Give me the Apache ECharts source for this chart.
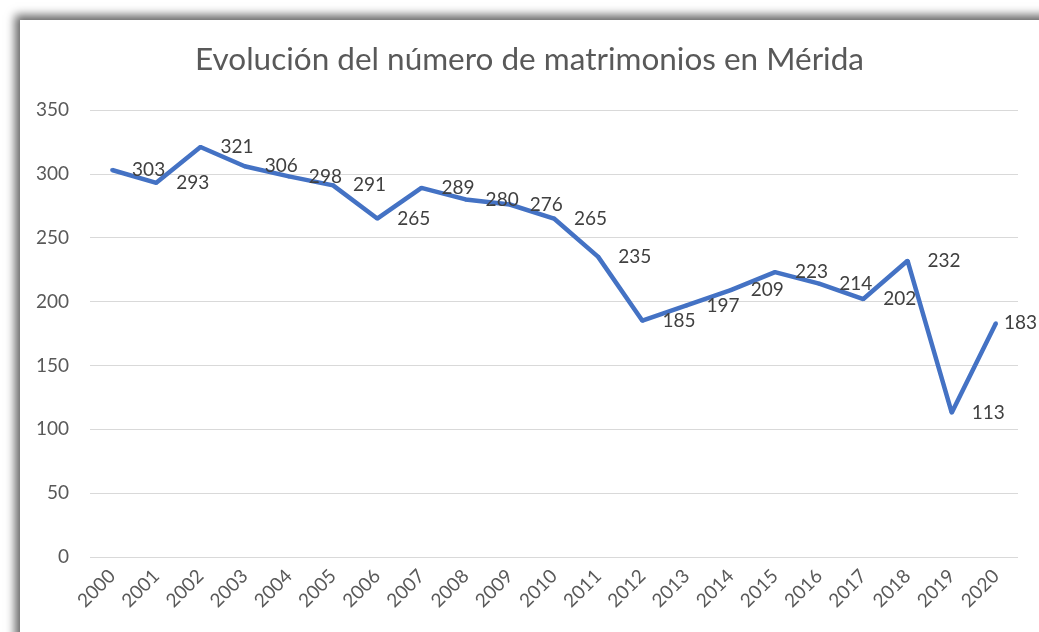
<!DOCTYPE html>
<html>
<head>
<meta charset="utf-8">
<script src="https://cdn.jsdelivr.net/npm/echarts@6/dist/echarts.min.js"></script>
<style>
  html, body { margin: 0; padding: 0; background: #fff; overflow: hidden; }
  #frame {
    position: absolute; left: 20px; top: 20px; width: 1100px; height: 700px;
    background: #fff;
    box-shadow: -5px -5px 9px rgba(0, 0, 0, 0.6);
  }
  #chart { position: absolute; left: 0; top: 0; width: 1019px; height: 612px; }
</style>
</head>
<body>
<div id="frame"><div id="chart"></div></div>
<script>
  // data
  var years = ['2000', '2001', '2002', '2003', '2004', '2005', '2006', '2007', '2008', '2009', '2010',
    '2011', '2012', '2013', '2014', '2015', '2016', '2017', '2018', '2019', '2020'];
  var matrimonios = [303, 293, 321, 306, 298, 291, 265, 289, 280, 276, 265,
    235, 185, 197, 209, 223, 214, 202, 232, 113, 183];
  var yTicks = [0, 50, 100, 150, 200, 250, 300, 350];

  var fontFam = 'Lato, "Open Sans", sans-serif';
  var chart = echarts.init(document.getElementById('chart'));

  // last label sits closer to the point, it would run off the edge otherwise
  var seriesData = matrimonios.map(function (v, i) {
    if (i === matrimonios.length - 1) {
      return { value: v, label: { distance: 6 } };
    }
    return v;
  });

  chart.setOption({
    animation: false,
    title: {
      text: 'Evolución del número de matrimonios en Mérida',
      left: 'center',
      top: 19,
      textStyle: { fontFamily: fontFam, fontSize: 31.5, fontWeight: 'normal', color: '#595959' }
    },
    grid: { left: 70, right: 21, top: 90, bottom: 75 },
    xAxis: {
      type: 'category',
      data: years,
      boundaryGap: true,
      axisLine: { show: false },
      axisTick: { show: false },
      axisLabel: { rotate: 45, margin: 16, fontFamily: fontFam, fontSize: 19, color: '#595959' }
    },
    yAxis: {
      type: 'value',
      min: yTicks[0],
      max: yTicks[yTicks.length - 1],
      interval: 50,
      axisLine: { show: false },
      axisTick: { show: false },
      splitLine: { lineStyle: { color: '#d9d9d9', width: 1 } },
      axisLabel: { margin: 21, fontFamily: fontFam, fontSize: 19, color: '#595959' }
    },
    series: [{
      type: 'line',
      data: seriesData,
      symbol: 'circle',
      symbolSize: 4,
      itemStyle: { color: '#4472C4' },
      lineStyle: { color: '#4472C4', width: 4.5 },
      label: {
        show: true,
        position: 'right',
        distance: 18,
        fontFamily: fontFam,
        fontSize: 19,
        color: '#404040'
      }
    }]
  });
</script>
</body>
</html>
